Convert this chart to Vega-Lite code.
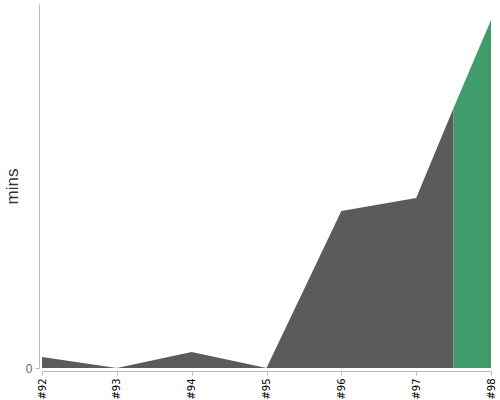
{
  "$schema": "https://vega.github.io/schema/vega-lite/v6.json",
  "width": 449,
  "height": 364,
  "autosize": "none",
  "padding": {"left": 42, "top": 4, "right": 9, "bottom": 32},
  "background": "white",
  "config": {
    "view": {"stroke": null},
    "font": "Liberation Sans"
  },
  "data": {
    "values": [
      {"build": 92, "mins": 11, "series": "previous"},
      {"build": 93, "mins": 0, "series": "previous"},
      {"build": 94, "mins": 16, "series": "previous"},
      {"build": 95, "mins": 0, "series": "previous"},
      {"build": 96, "mins": 157, "series": "previous"},
      {"build": 97, "mins": 170, "series": "previous"},
      {"build": 97.5, "mins": 260, "series": "previous"},
      {"build": 97.5, "mins": 260, "series": "current"},
      {"build": 98, "mins": 348, "series": "current"}
    ]
  },
  "mark": {"type": "area", "interpolate": "linear"},
  "encoding": {
    "x": {
      "field": "build",
      "type": "quantitative",
      "scale": {"domain": [92, 98], "nice": false, "zero": false},
      "axis": {
        "values": [92, 93, 94, 95, 96, 97, 98],
        "labelExpr": "'#' + datum.value",
        "labelAngle": 270,
        "labelAlign": "right",
        "labelBaseline": "middle",
        "labelFont": "DejaVu Sans",
        "labelFontSize": 10,
        "labelColor": "#000",
        "labelPadding": 3,
        "offset": 3,
        "grid": false,
        "domainColor": "#bbb",
        "tickColor": "#bbb",
        "tickSize": 4,
        "title": null,
        "labelFlush": false,
        "labelOverlap": false
      }
    },
    "y": {
      "field": "mins",
      "type": "quantitative",
      "stack": null,
      "scale": {"domain": [0, 364], "nice": false},
      "axis": {
        "values": [0],
        "grid": false,
        "offset": 3,
        "domainColor": "#bbb",
        "tickColor": "#bbb",
        "tickSize": 4,
        "labelFontSize": 12,
        "labelColor": "#666",
        "labelPadding": 3,
        "title": "mins",
        "titleFontSize": 17,
        "titleFontWeight": "normal",
        "titleColor": "#333",
        "titlePadding": 4
      }
    },
    "color": {
      "field": "series",
      "type": "nominal",
      "scale": {"domain": ["previous", "current"], "range": ["#5b5b5b", "#409c6a"]},
      "legend": null
    }
  }
}
